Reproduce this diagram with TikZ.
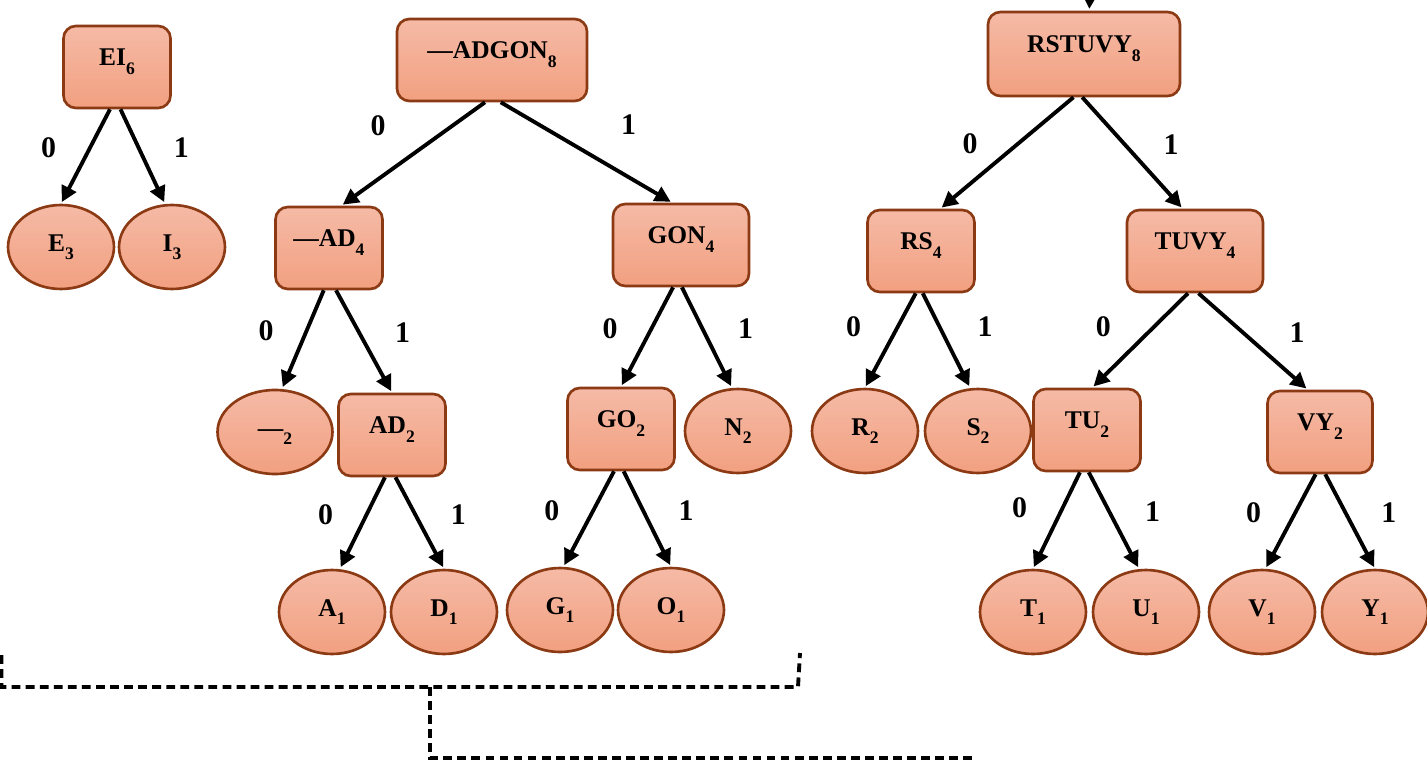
\documentclass[tikz,border=0pt]{standalone}
\usepackage{fontspec}
\setmainfont{Liberation Serif}
\usetikzlibrary{shapes.geometric,arrows.meta}

\definecolor{nodetop}{HTML}{F5BAA6}
\definecolor{nodebot}{HTML}{F2A080}
\definecolor{nodeedge}{HTML}{8B3A14}

% weight written below the letters
\newcommand{\wt}[1]{\raisebox{-5pt}{\fontsize{10}{10}\selectfont\bfseries #1}}

\tikzset{
  tnode/.style={draw=nodeedge, line width=1.5pt, top color=nodetop, bottom color=nodebot,
    font=\fontsize{14.5}{17}\selectfont\bfseries, text height=9.6pt},
  inner/.style={tnode, rectangle, rounded corners=7pt, minimum width=2.14cm,
    minimum height=1.64cm, text depth=11pt},
  leaf/.style={tnode, ellipse, minimum width=2.12cm, minimum height=1.68cm,
    inner sep=0pt, text depth=5pt},
  branch/.style={-{Triangle[length=9pt,width=9pt]}, line width=2.2pt, shorten >=1pt},
  bit/.style={font=\fontsize{17}{19}\selectfont\bfseries},
  zero/.style={bit, midway, xshift=-21pt, yshift=5pt},
  one/.style={bit, midway, xshift=22pt, yshift=5pt},
  bracket/.style={line width=2.2pt, dash pattern=on 5pt off 3pt}
}

\begin{document}
\begin{tikzpicture}[x=0.02cm, y=-0.02cm]
  \useasboundingbox (0,0) rectangle (1427,760);

  % EI tree
  \node[inner] (ei) at (117,67) {EI\wt{6}};
  \node[leaf] (e) at (61,247) {E\wt{3}};
  \node[leaf] (i) at (172,247) {I\wt{3}};
  \draw[branch] ([xshift=-4pt]ei.south) -- (e.north) node[zero] (b1) {0};
  \draw[branch] ([xshift=2pt]ei.south) -- ([xshift=-4pt]i.north) node[one] (b2) {1};

  % —ADGON tree
  \node[inner, minimum width=3.8cm] (adgon) at (492,60) {—ADGON\wt{8}};
  \node[inner] (ad4) at (329,248) {—AD\wt{4}};
  \node[inner, minimum width=2.72cm] (gon) at (681,245) {GON\wt{4}};
  \node[leaf, minimum width=2.3cm] (dash) at (275,432) {—\wt{2}};
  \node[inner] (ad2) at (392,435) {AD\wt{2}};
  \node[inner] (go) at (621,429) {GO\wt{2}};
  \node[leaf] (n) at (738,431) {N\wt{2}};
  \node[leaf] (a) at (332,612) {A\wt{1}};
  \node[leaf] (d) at (444,612) {D\wt{1}};
  \node[leaf] (g) at (560,610) {G\wt{1}};
  \node[leaf] (o) at (671,610) {O\wt{1}};
  \draw[branch] ([xshift=-4pt]adgon.south) -- ([xshift=7pt]ad4.north)
    node[bit, midway, xshift=-20pt, yshift=16pt] (b3) {0};
  \draw[branch] ([xshift=5pt]adgon.south) -- ([xshift=-5pt]gon.north)
    node[bit, midway, xshift=24pt, yshift=16pt] (b4) {1};
  \draw[branch] ([xshift=-3pt]ad4.south) -- ([xshift=4pt]dash.north) node[zero] (b5) {0};
  \draw[branch] ([xshift=4pt]ad4.south) -- (ad2.north) node[one] (b6) {1};
  \draw[branch] ([xshift=-4pt]ad2.south) -- ([xshift=4.5pt]a.north) node[zero] (b7) {0};
  \draw[branch] ([xshift=2pt]ad2.south) -- (d.north) node[one] (b8) {1};
  \draw[branch] ([xshift=-4.5pt]gon.south) -- (go.north) node[zero] (b9) {0};
  \draw[branch] ([xshift=0.5pt]gon.south) -- ([xshift=-3.5pt]n.north) node[one] (b10) {1};
  \draw[branch] ([xshift=-4pt]go.south) -- ([xshift=2pt]g.north) node[zero] (b11) {0};
  \draw[branch] ([xshift=1.5pt]go.south) -- (o.north) node[one] (b12) {1};

  % RSTUVY tree
  \coordinate (feed) at (1090,-10);
  \node[inner, minimum width=3.84cm, minimum height=1.68cm] (rstuvy) at (1084,54) {RSTUVY\wt{8}};
  \node[inner] (rs) at (921,251) {RS\wt{4}};
  \node[inner, minimum width=2.72cm] (tuvy) at (1195,251) {TUVY\wt{4}};
  \node[leaf] (r) at (865,431) {R\wt{2}};
  \node[leaf] (s) at (978,431) {S\wt{2}};
  \node[inner] (tu) at (1087,430) {TU\wt{2}};
  \node[inner, minimum width=2.1cm] (vy) at (1320,432) {VY\wt{2}};
  \node[leaf] (t) at (1033,612) {T\wt{1}};
  \node[leaf] (u) at (1146,612) {U\wt{1}};
  \node[leaf] (v) at (1262,612) {V\wt{1}};
  \node[leaf] (y) at (1375,612) {Y\wt{1}};
  \draw[branch] (feed) -- ([xshift=3pt]rstuvy.north);
  \draw[branch] ([xshift=-6pt]rstuvy.south) -- ([xshift=11pt]rs.north) node[zero] (b13) {0};
  \draw[branch] ([xshift=-1pt]rstuvy.south) -- ([xshift=-7pt]tuvy.north) node[one] (b14) {1};
  \draw[branch] ([xshift=-3pt]rs.south) -- (r.north) node[zero, yshift=3pt] (b15) {0};
  \draw[branch] ([xshift=1pt]rs.south) -- ([xshift=-4.5pt]s.north) node[one, yshift=3pt] (b16) {1};
  \draw[branch] ([xshift=-4pt]tuvy.south) -- ([xshift=3pt]tu.north) node[zero, yshift=3pt] (b17) {0};
  \draw[branch] ([xshift=2pt]tuvy.south) -- ([xshift=-7pt]vy.north) node[one, xshift=3pt] (b18) {1};
  \draw[branch] ([xshift=-4pt]tu.south) -- (t.north) node[zero, yshift=2pt] (b19) {0};
  \draw[branch] ([xshift=1pt]tu.south) -- ([xshift=-4pt]u.north) node[one] (b20) {1};
  \draw[branch] ([xshift=-2.5pt]vy.south) -- ([xshift=2pt]v.north) node[zero] (b21) {0};
  \draw[branch] ([xshift=3pt]vy.south) -- (y.north) node[one] (b22) {1};

  % dashed brackets below
  \draw[bracket] (1.5,655) -- (1.5,687) -- (798,687) -- (800,653);
  \draw[bracket] (430,687) -- (430,758) -- (975,758);
\end{tikzpicture}
\end{document}
